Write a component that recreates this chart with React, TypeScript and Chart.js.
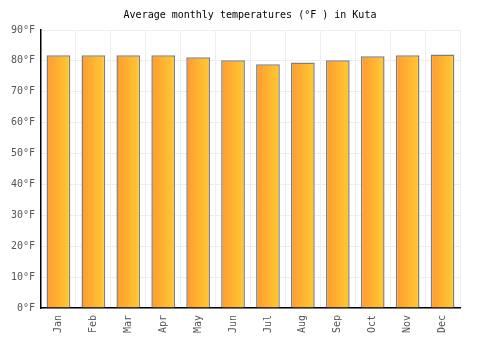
import React, { useEffect, useRef } from "react";
import { Chart, registerables } from "chart.js";

Chart.register(...registerables);

const months = ["Jan", "Feb", "Mar", "Apr", "May", "Jun", "Jul", "Aug", "Sep", "Oct", "Nov", "Dec"];
const tempsF = [81.8, 81.8, 81.8, 81.8, 81.2, 80.2, 78.9, 79.5, 80.2, 81.5, 81.8, 82.1];
const yTicks = [0, 10, 20, 30, 40, 50, 60, 70, 80, 90];
const titleText = "Average monthly temperatures (°F ) in Kuta";

const FONT = "'DejaVu Sans Mono', monospace";

export default function App() {
  const ref = useRef<HTMLCanvasElement | null>(null);
  useEffect(() => {
    if (!ref.current) return;
    const catPct = 0.68;
    const titlePlugin = {
      id: "customTitle",
      afterDraw(chart: any) {
        const c = chart.ctx;
        c.save();
        c.font = `10px ${FONT}`;
        c.fillStyle = "#000";
        c.textAlign = "center";
        c.textBaseline = "middle";
        c.fillText(titleText, 250, 15);
        c.restore();
      },
    };
    const chart = new Chart(ref.current, {
      type: "bar",
      data: {
        labels: months,
        datasets: [
          {
            data: tempsF,
            backgroundColor: (ctx: any) => {
              const ch = ctx.chart;
              const xs = ch.scales?.x;
              if (!xs || ctx.dataIndex === undefined) return "#ffb43a";
              const cx = xs.getPixelForValue(ctx.dataIndex);
              const w = (xs.width / months.length) * catPct;
              if (!isFinite(cx) || !isFinite(w) || w <= 0) return "#ffb43a";
              const g = ch.ctx.createLinearGradient(cx - w / 2, 0, cx + w / 2, 0);
              g.addColorStop(0, "#ff9a2f");
              g.addColorStop(1, "#ffcb33");
              return g;
            },
            borderColor: "#808080",
            borderWidth: 1.5,
            categoryPercentage: catPct,
            barPercentage: 1,
          },
        ],
      },
      options: {
        responsive: false,
        animation: false,
        layout: { padding: { left: 0, right: 40, top: 30, bottom: 0 } },
        plugins: { legend: { display: false }, title: { display: false }, tooltip: { enabled: false } },
        scales: {
          x: {
            grid: { color: "#eeeeee", offset: true, drawTicks: false },
            border: { color: "#000", width: 1.5 },
            ticks: {
              font: { family: FONT, size: 10 },
              color: "#555",
              maxRotation: 90,
              minRotation: 90,
              padding: 7,
            },
            afterFit: (s: any) => {
              s.height = 42;
            },
          },
          y: {
            min: 0,
            max: 90,
            grid: { color: "#eeeeee", drawTicks: false },
            border: { color: "#000", width: 1.5 },
            afterBuildTicks: (s: any) => {
              s.ticks = yTicks.map((v) => ({ value: v }));
            },
            ticks: {
              font: { family: FONT, size: 10 },
              color: "#555",
              padding: 6,
              callback: (v: any) => `${v}°F`,
            },
            afterFit: (s: any) => {
              s.width = 41;
            },
          },
        },
      },
      plugins: [titlePlugin],
    });
    return () => chart.destroy();
  }, []);
  return (
    <div style={{ position: "fixed", left: 0, top: 0, width: 500, height: 350, background: "#fff" }}>
      <canvas ref={ref} width={500} height={350} style={{ width: 500, height: 350 }} />
    </div>
  );
}
